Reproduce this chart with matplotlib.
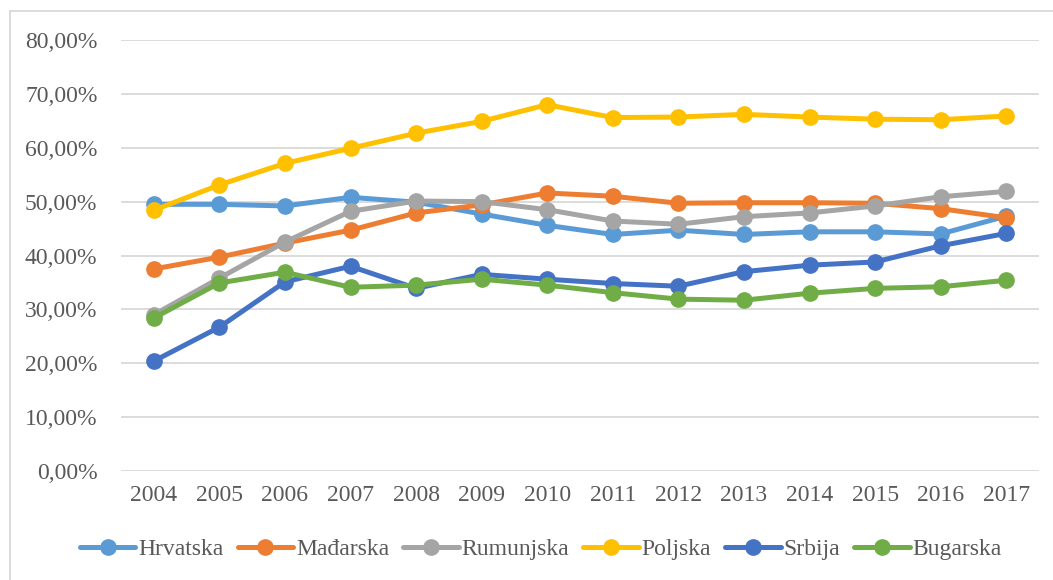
import numpy as np
import matplotlib.pyplot as plt
from matplotlib.lines import Line2D
from matplotlib.ticker import FuncFormatter

years = ['2004', '2005', '2006', '2007', '2008', '2009', '2010',
         '2011', '2012', '2013', '2014', '2015', '2016', '2017']

hrvatska = [49.5, 49.5, 49.2, 50.8, 49.9, 47.7, 45.6, 43.9, 44.7, 43.9, 44.4, 44.4, 44.0, 47.3]
madarska = [37.5, 39.7, 42.3, 44.7, 47.9, 49.4, 51.6, 51.0, 49.7, 49.8, 49.8, 49.7, 48.7, 47.0]
rumunjska = [29.0, 35.8, 42.5, 48.2, 50.1, 50.0, 48.5, 46.4, 45.8, 47.2, 47.9, 49.2, 50.9, 51.9]
poljska = [48.4, 53.1, 57.1, 59.9, 62.7, 64.9, 68.0, 65.6, 65.7, 66.2, 65.7, 65.3, 65.2, 65.9]
srbija = [20.4, 26.7, 35.1, 38.0, 33.9, 36.5, 35.6, 34.8, 34.3, 37.0, 38.2, 38.8, 41.8, 44.1]
bugarska = [28.4, 34.9, 36.9, 34.1, 34.5, 35.6, 34.5, 33.1, 31.9, 31.7, 33.0, 33.9, 34.2, 35.4]

names = ['Hrvatska', 'Mađarska', 'Rumunjska', 'Poljska', 'Srbija', 'Bugarska']
series = [hrvatska, madarska, rumunjska, poljska, srbija, bugarska]
colors = ['#5B9BD5', '#ED7D31', '#A5A5A5', '#FFC000', '#4472C4', '#70AD47']

plt.rcParams['font.family'] = ['Liberation Serif', 'DejaVu Serif']

fig = plt.figure(figsize=(10.53, 5.8), dpi=100)
ax = fig.add_axes([121 / 1053, 1 - 471 / 580, 918 / 1053, 431 / 580])

x = np.arange(len(years))
for vals, c in zip(series, colors):
    ax.plot(x, vals, color=c, lw=3.6, marker='o', ms=11, solid_capstyle='round')

ax.set_xlim(-0.5, len(years) - 0.5)
ax.set_ylim(0, 80)
ax.set_yticks(np.arange(0, 81, 10))
ax.yaxis.set_major_formatter(FuncFormatter(lambda v, p: f'{v:.2f}%'.replace('.', ',')))
ax.set_xticks(x)
ax.set_xticklabels(years)
ax.grid(axis='y', color='#D9D9D9', lw=1.3)
ax.set_axisbelow(True)
for s in ax.spines.values():
    s.set_visible(False)
ax.tick_params(axis='both', length=0, labelsize=17, colors='#595959')
ax.tick_params(axis='y', pad=17)
ax.tick_params(axis='x', pad=10)

handles = [Line2D([], [], color=c, lw=3.6, marker='o', ms=11, solid_capstyle='round') for c in colors]
fig.legend(handles, names, loc='center', bbox_to_anchor=(541 / 1053, 1 - 549 / 580),
           ncol=6, frameon=False, fontsize=17, handlelength=2.35,
           handletextpad=0.12, columnspacing=0.6, labelcolor='#595959')

# outer chart border (top and left visible)
fig.add_artist(Line2D([10 / 1053, 10 / 1053], [0, 1 - 11 / 580], color='#D9D9D9', lw=1.3))
fig.add_artist(Line2D([10 / 1053, 1], [1 - 11 / 580, 1 - 11 / 580], color='#D9D9D9', lw=1.3))

fig.savefig('out.png', dpi=100)
